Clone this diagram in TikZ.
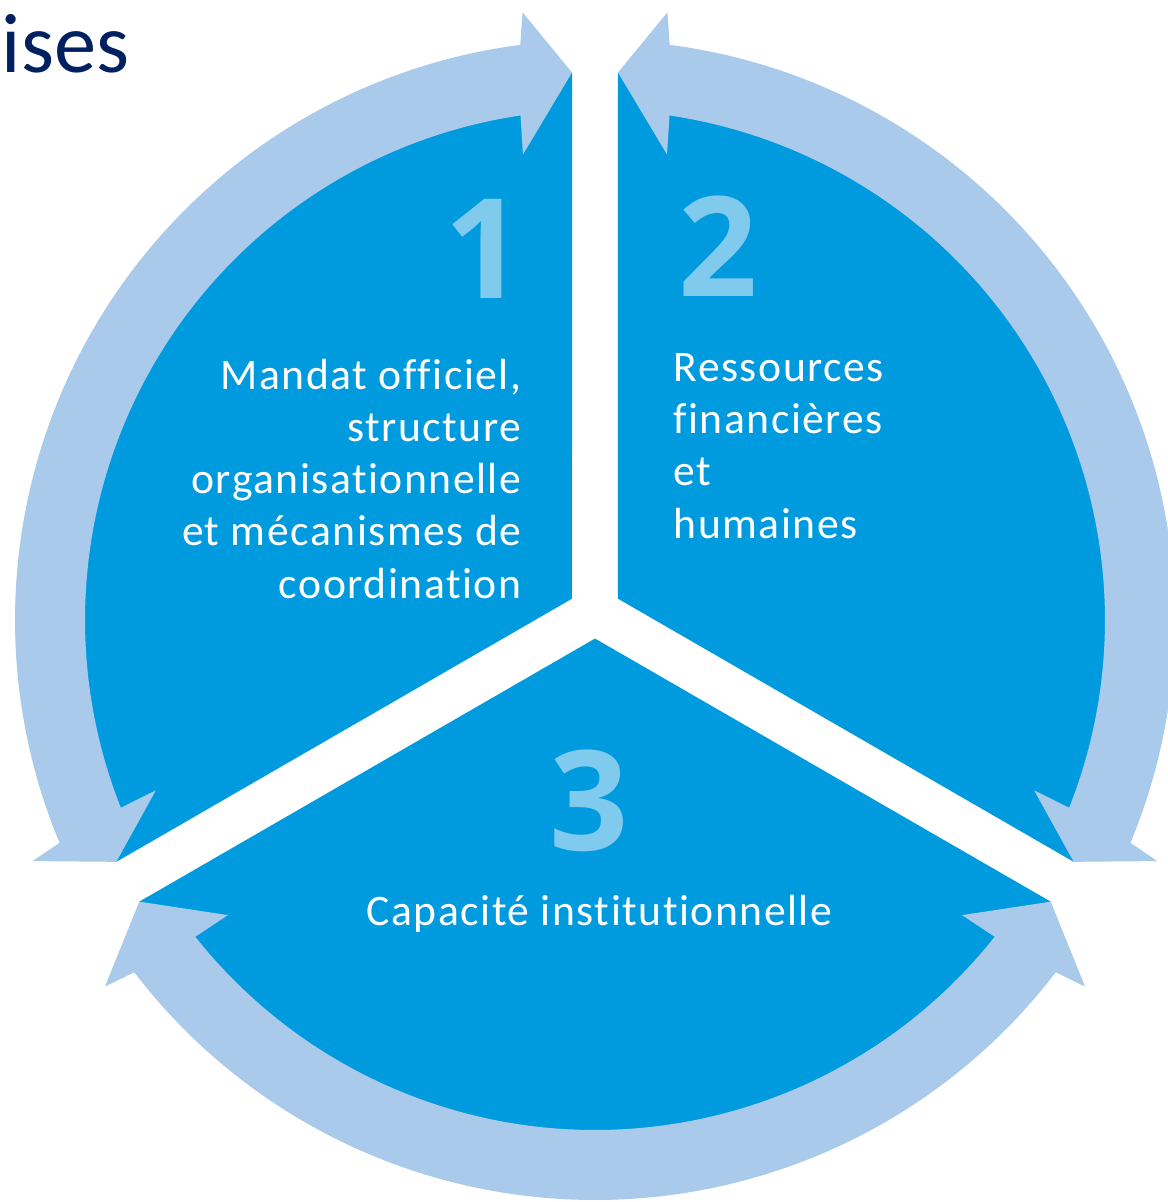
\documentclass[tikz,border=0pt]{standalone}
\usepackage{fontspec}
\setmainfont{Carlito}[Ligatures=NoCommon,RawFeature={-liga}]
\newfontfamily\spacedfont{Carlito}[LetterSpace=3.5,Ligatures=NoCommon,RawFeature={-liga}]
\newfontfamily\digitfont{Open Sans}
\definecolor{sectorblue}{HTML}{009BDE}
\definecolor{ringblue}{HTML}{A9CAEB}
\definecolor{numblue}{HTML}{80CAEE}
\definecolor{titlenavy}{HTML}{002060}
\begin{document}
\begin{tikzpicture}[x=0.01cm,y=0.01cm,
  txt/.style={text=white,inner sep=0pt,font=\spacedfont\fontsize{12.4}{14.8}\selectfont},
  num/.style={text=numblue,inner sep=0pt,font=\digitfont\fontsize{39.5}{45}\selectfont\bfseries}]
\useasboundingbox (-595,-590) rectangle (573,612);
% three sectors
\fill[sectorblue] (150:26.56) -- (92.44:540) arc[start angle=92.44,end angle=207.56,radius=540] -- cycle;
\fill[sectorblue] (30:26.56) -- (-27.56:540) arc[start angle=-27.56,end angle=87.56,radius=540] -- cycle;
\fill[sectorblue] (270:26.56) -- (212.44:540) arc[start angle=212.44,end angle=327.56,radius=540] -- cycle;
% curved arrows, heads at both ends
\foreach \b in {30,150,270}{
  \coordinate (tipa) at ({\b-57.56}:540);
  \coordinate (tipb) at ({\b+57.56}:540);
  \fill[ringblue,shift={(0,-8)}] (tipa) -- ({\b-51.2}:471) -- ({\b-51.6}:510)
    arc[start angle=\b-51.6,end angle=\b+51.6,radius=510] -- ({\b+51.2}:471) -- (tipb)
    -- ({\b+53.2}:612) -- ({\b+52.6}:580)
    arc[start angle=\b+52.6,end angle=\b-52.6,radius=580] -- ({\b-53.2}:612) -- cycle;
}
\node[num,anchor=base] (one) at (-110.5,314) {1};
\node[num,anchor=base] (two) at (123.5,316) {2};
\node[num,anchor=base] (three) at (-5.5,-238) {3};
\node[txt,anchor=base east,align=right] (mandat) at (-73,14) {Mandat officiel,\\structure\\organisationnelle\\et mécanismes de\\coordination};
\node[txt,anchor=base west,align=left] (ressources) at (78,74) {Ressources\\financières\\et\\humaines};
\node[txt,anchor=base] (capacite) at (4.5,-313) {Capacité institutionnelle};
\node[text=titlenavy,inner sep=0pt,anchor=base west,font=\fontsize{24}{28}\selectfont] (titre) at (-594,540) {ises};
\end{tikzpicture}
\end{document}
